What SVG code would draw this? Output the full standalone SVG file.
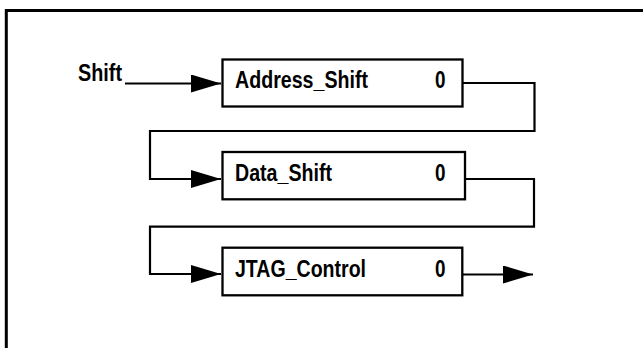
<svg xmlns="http://www.w3.org/2000/svg" width="643" height="348" viewBox="0 0 643 348">
<style>
.frame{fill:none;stroke:#000;stroke-width:3}
.box{fill:#fff;stroke:#000;stroke-width:2.3}
.wire{fill:none;stroke:#000;stroke-width:2.2}
.lbl{font-family:"Liberation Sans Narrow","Arial Narrow","Liberation Sans",Arial,sans-serif;font-weight:bold;font-size:23px;fill:#000}
</style>
<defs>
<marker id="ah" markerUnits="userSpaceOnUse" markerWidth="31" markerHeight="19" refX="30" refY="9" orient="auto">
<path d="M0,0 L30,9 L0,18 z" fill="#000"/>
</marker>
</defs>
<rect width="643" height="348" fill="#fff"/>
<path class="frame" d="M6.3,348 V10.5 H643"/>
<g id="connectors">
<text class="lbl" x="78" y="81" textLength="44" lengthAdjust="spacingAndGlyphs">Shift</text>
<path class="wire" d="M125,83.5 H221" marker-end="url(#ah)"/>
<path class="wire" d="M462.5,83 H534.5 V131 H150 V179 H221" marker-end="url(#ah)"/>
<path class="wire" d="M461,179 H534 V226.7 H150 V274 H221" marker-end="url(#ah)"/>
<path class="wire" d="M462,274.5 H533" marker-end="url(#ah)"/>
</g>
<g id="address_shift">
<rect class="box" x="222.5" y="59.5" width="240" height="47"/>
<text class="lbl" x="235" y="88" textLength="133" lengthAdjust="spacingAndGlyphs">Address_Shift</text>
<text class="lbl" x="435" y="88" textLength="10.5" lengthAdjust="spacingAndGlyphs">0</text>
</g>
<g id="data_shift">
<rect class="box" x="222.5" y="152" width="242.5" height="47.3"/>
<text class="lbl" x="235" y="180.5" textLength="97" lengthAdjust="spacingAndGlyphs">Data_Shift</text>
<text class="lbl" x="435" y="180.5" textLength="10.5" lengthAdjust="spacingAndGlyphs">0</text>
</g>
<g id="jtag_control">
<rect class="box" x="222.5" y="247.7" width="239.8" height="47.6"/>
<text class="lbl" x="235" y="276.5" textLength="131" lengthAdjust="spacingAndGlyphs">JTAG_Control</text>
<text class="lbl" x="435" y="276.5" textLength="10.5" lengthAdjust="spacingAndGlyphs">0</text>
</g>
</svg>
